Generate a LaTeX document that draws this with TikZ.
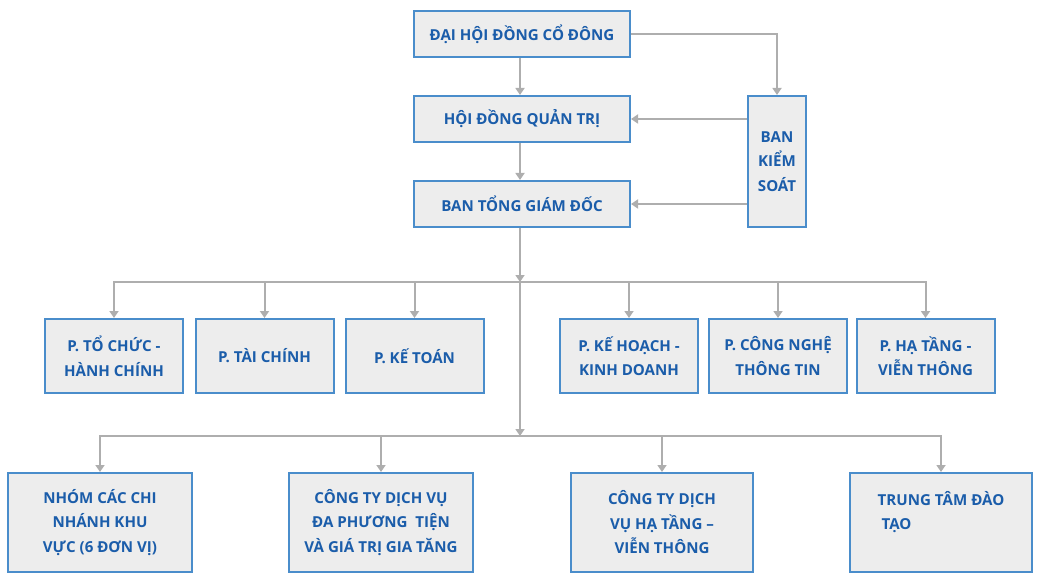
\documentclass[tikz,border=0pt]{standalone}
\usepackage{fontspec}
\setmainfont{Open Sans}
\usetikzlibrary{arrows.meta}
\definecolor{boxblue}{HTML}{4A8DCB}
\definecolor{boxfill}{HTML}{EDEDED}
\definecolor{txtblue}{HTML}{1B5DAA}
\definecolor{linegrey}{HTML}{AEAEAE}
\begin{document}
\begin{tikzpicture}[x=1pt,y=-1pt,
  box/.style={draw=boxblue, fill=boxfill, line width=2pt, text=txtblue,
    font=\bfseries\fontsize{15.1}{24.5}\selectfont, align=center, inner sep=0pt},
  tip/.tip={Triangle[width=9pt,length=7pt]},
  conn/.style={draw=linegrey, line width=2pt, -tip},
  bus/.style={draw=linegrey, line width=2pt, tip-tip}]
\useasboundingbox (0,0) rectangle (1047,580);
% top
\node[box, minimum width=216pt, minimum height=46pt] (dh) at (522,34) {ĐẠI HỘI ĐỒNG CỔ ĐÔNG};
\node[box, minimum width=216pt, minimum height=46pt] (hq) at (522,119) {HỘI ĐỒNG QUẢN TRỊ};
\node[box, minimum width=216pt, minimum height=46pt] (bt) at (522,204) {BAN TỔNG GIÁM ĐỐC};
\node[box, minimum width=58pt, minimum height=131pt] (bks) at (777,161.5) {BAN\\KIỂM\\SOÁT};
% row 2
\node[box, minimum width=138pt, minimum height=74pt] (a1) at (114,356) {P. TỔ CHỨC -\\HÀNH CHÍNH};
\node[box, minimum width=138pt, minimum height=74pt] (a2) at (264.5,356) {P. TÀI CHÍNH};
\node[box, minimum width=138pt, minimum height=74pt] (a3) at (414.5,356) {P. KẾ TOÁN};
\node[box, minimum width=138pt, minimum height=74pt] (a4) at (629,356) {P. KẾ HOẠCH -\\KINH DOANH};
\node[box, minimum width=138pt, minimum height=74pt] (a5) at (778,356) {P. CÔNG NGHỆ\\THÔNG TIN};
\node[box, minimum width=138pt, minimum height=74pt] (a6) at (925.5,356) {P. HẠ TẦNG -\\VIỄN THÔNG};
% row 3
\node[box, minimum width=184pt, minimum height=99pt] (b1) at (100,522.5) {NHÓM CÁC CHI\\NHÁNH KHU\\VỰC (6 ĐƠN VỊ)};
\node[box, minimum width=184pt, minimum height=99pt] (b2) at (381,522.5) {CÔNG TY DỊCH VỤ\\ĐA PHƯƠNG\ \ TIỆN\\VÀ GIÁ TRỊ GIA TĂNG};
\node[box, minimum width=182pt, minimum height=99pt] (b3) at (662,522.5) {CÔNG TY DỊCH\\VỤ HẠ TẦNG –\\VIỄN THÔNG};
\node[box, minimum width=182pt, minimum height=99pt, align=left] (b4) at (941,522.5) {TRUNG TÂM ĐÀO\\\ TẠO\\\mbox{}};
% connectors
\coordinate (vx) at (520,0);
\coordinate (bus1) at (0,282);
\coordinate (bus2) at (0,436);
\draw[conn] (vx |- dh.south) -- (vx |- hq.north);
\draw[conn] (vx |- hq.south) -- (vx |- bt.north);
\draw[conn] (dh.east) -| (bks.north);
\draw[conn] (bks.west |- hq.east) -- (hq.east);
\draw[conn] (bks.west |- bt.east) -- (bt.east);
\draw[conn] (vx |- bt.south) -- (vx |- bus1);
\draw[conn] (vx |- bus1) -- (vx |- bus2);
\draw[bus] (a1.north) -- (a1.north |- bus1) -- (a6.north |- bus1) -- (a6.north);
\foreach \n in {a2,a3,a4,a5} \draw[conn] (\n.north |- bus1) -- (\n.north);
\draw[bus] (b1.north) -- (b1.north |- bus2) -- (b4.north |- bus2) -- (b4.north);
\foreach \n in {b2,b3} \draw[conn] (\n.north |- bus2) -- (\n.north);
\end{tikzpicture}
\end{document}
